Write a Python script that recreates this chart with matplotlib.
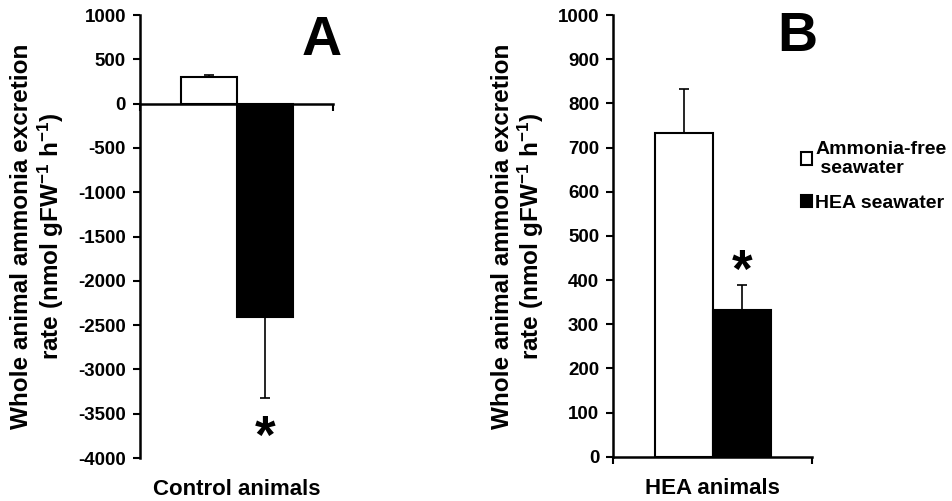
import numpy as np
import matplotlib.pyplot as plt

plt.rcParams['font.family'] = ['Liberation Sans', 'DejaVu Sans']
plt.rcParams['font.weight'] = 'bold'
plt.rcParams['mathtext.fontset'] = 'custom'
plt.rcParams['mathtext.rm'] = 'Liberation Sans:bold'
plt.rcParams['mathtext.bf'] = 'Liberation Sans:bold'
plt.rcParams['mathtext.default'] = 'rm'

# data
series = ['Ammonia-free\n seawater', 'HEA seawater']
groups = ['Control animals', 'HEA animals']
control_mean = [305, -2405]
control_err = [22, 915]
hea_mean = [733, 333]
hea_err = [100, 55]

colors = ['white', 'black']
ylabel = 'Whole animal ammonia excretion\nrate (nmol gFW$^{-1}$ h$^{-1}$)'

fig = plt.figure(figsize=(9.52, 5.01), dpi=100)
axA = fig.add_axes([0.147, 0.0858, 0.203, 0.8842])
axB = fig.add_axes([0.644, 0.0884, 0.209, 0.8816])

offs = [-0.145, 0.148]
w = 0.29


def draw(ax, means, errs, ylim, yticks, xlabel, letter, lpos, star_idx, star_gap, ylx):
    for i in range(2):
        m = means[i]
        e = errs[i]
        yerr = [[0], [e]] if m >= 0 else [[e], [0]]
        ax.bar(offs[i], m, width=w, color=colors[i], edgecolor='black',
               linewidth=1.5, label=series[i], zorder=2)
        ax.errorbar(offs[i], m, yerr=yerr, fmt='none', ecolor='black',
                    elinewidth=1.2, capsize=3.5, capthick=1.2, zorder=1)
    ax.set_xlim(-0.5, 0.5)
    ax.set_ylim(*ylim)
    ax.set_yticks(yticks)
    ax.set_yticklabels([str(t) for t in yticks], fontsize=13.5, fontweight='bold')
    ax.set_xticks([-0.5, 0.5])
    ax.set_xticklabels([])
    ax.tick_params(axis='y', direction='out', length=5, width=1.5, pad=5)
    ax.tick_params(axis='x', direction='out', length=5, width=1.5)
    for s in ['top', 'right']:
        ax.spines[s].set_visible(False)
    for s in ['left', 'bottom']:
        ax.spines[s].set_linewidth(1.8)
    ax.set_xlabel(xlabel, fontsize=16, fontweight='bold')
    ax.xaxis.set_label_coords(0.5, -0.048)
    ax.set_ylabel(ylabel, fontsize=17.5, fontweight='bold', linespacing=1.1)
    ax.yaxis.set_label_coords(ylx, 0.5)
    ax.text(lpos[0], lpos[1], letter, transform=ax.transAxes, fontsize=40,
            fontweight='bold', ha='center', va='center')
    m = means[star_idx]
    e = errs[star_idx]
    ys = m + e + star_gap if m >= 0 else m - e - star_gap
    ax.text(offs[star_idx], ys, '*', fontsize=38, fontweight='bold',
            ha='center', va='center')


draw(axA, control_mean, control_err, (-4000, 1000),
     list(range(-4000, 1001, 500)), groups[0], 'A', (0.938, 0.942), 1, 470, -0.385)
axA.spines['bottom'].set_position(('data', 0))

draw(axB, hea_mean, hea_err, (0, 1000),
     list(range(0, 1001, 100)), groups[1], 'B', (0.925, 0.95), 1, 28, -0.335)

axB.legend(loc='upper left', bbox_to_anchor=(0.833, 0.735),
           bbox_transform=fig.transFigure, frameon=False,
           prop={'weight': 'bold', 'size': 14}, handlelength=0.6,
           handleheight=0.6, handletextpad=0.15, labelspacing=0.9,
           borderaxespad=0)

fig.savefig('out.png', dpi=100)
